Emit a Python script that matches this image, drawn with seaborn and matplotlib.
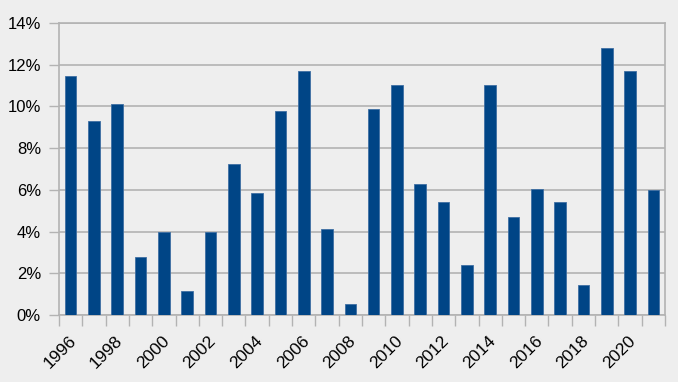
import matplotlib
matplotlib.use("Agg")
import matplotlib.pyplot as plt
import matplotlib.transforms as mtransforms
import seaborn as sns
import pandas as pd
import numpy as np
from matplotlib.ticker import FuncFormatter, FixedLocator

years = [str(y) for y in range(1996, 2022)]
values = [11.46, 9.28, 10.13, 2.77, 4.00, 1.15, 3.97, 7.23, 5.84, 9.79,
          11.70, 4.10, 0.54, 9.87, 11.02, 6.26, 5.41, 2.38, 11.01, 4.69,
          6.05, 5.44, 1.42, 12.78, 11.71, 6.00]
label_years = [y for y in years if int(y) % 2 == 0]

sns.set_theme(style="white")
plt.rcParams['font.family'] = ['Liberation Sans', 'DejaVu Sans']

BG = "#eeeeee"
GRID = "#b3b3b3"
BAR = "#004586"

df = pd.DataFrame({"year": years, "value": values})

fig = plt.figure(figsize=(6.78, 3.82), dpi=100, facecolor=BG)
ax = fig.add_axes([59/678, 1-315/382, (665-59)/678, (315-23)/382])
ax.set_facecolor(BG)

sns.barplot(data=df, x="year", y="value", color=BAR, width=0.5,
            saturation=1, ax=ax, edgecolor="#3f6fa3", linewidth=0.6, zorder=3)

ax.set_xlim(-0.5, len(years) - 0.5)
ax.set_ylim(0, 14)
ax.set_yticks(np.arange(0, 15, 2))
ax.yaxis.set_major_formatter(FuncFormatter(lambda v, p: f"{int(v)}%"))
ax.grid(axis="y", color=GRID, linewidth=1.2, zorder=0)
ax.grid(axis="x", visible=False)

# x ticks: boundaries as tick marks, labels on even years
ax.xaxis.set_major_locator(FixedLocator(np.arange(-0.5, len(years), 1.0)))
ax.set_xticklabels([])
ax.xaxis.set_minor_locator(FixedLocator([years.index(y) for y in label_years]))
ax.set_xticklabels(label_years, minor=True, rotation=45, ha="right",
                   va="center", rotation_mode="anchor", fontsize=12.5, color="black")
ax.tick_params(axis="x", which="major", length=8, width=1, color=GRID, bottom=True)
ax.tick_params(axis="x", which="minor", length=0, pad=17)
ax.tick_params(axis="y", length=7, width=1, color=GRID, left=True, labelsize=12,
               labelcolor="black", pad=6)

offset = mtransforms.ScaledTranslation(3/100, 0, fig.dpi_scale_trans)
for lbl in ax.get_xticklabels(minor=True):
    lbl.set_transform(lbl.get_transform() + offset)

for s in ["left", "right", "bottom", "top"]:
    ax.spines[s].set_visible(True)
    ax.spines[s].set_color(GRID)
    ax.spines[s].set_linewidth(1.2)

ax.set_xlabel("")
ax.set_ylabel("")

fig.savefig("out.png", dpi=100, facecolor=BG)
